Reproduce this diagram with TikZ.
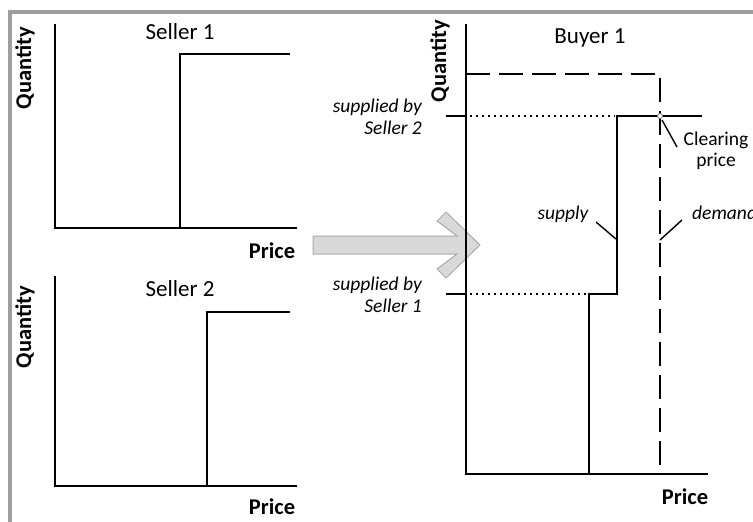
\documentclass[tikz,border=0pt]{standalone}
\usepackage{fontspec}
\setmainfont{Carlito}
\begin{document}
\begin{tikzpicture}[x=1pt,y=-1pt,
  frame/.style={draw=black!38,line width=4pt},
  axis/.style={line width=1.8pt,line cap=rect},
  curve/.style={line width=2.5pt},
  dashline/.style={line width=2pt,dash pattern=on 24pt off 9pt},
  dotline/.style={line width=1.6pt,dash pattern=on 1.6pt off 4.4pt},
  leader/.style={line width=1.4pt},
  title/.style={font=\fontsize{23}{27}\selectfont,inner sep=0pt},
  axlab/.style={font=\fontsize{22.5}{26}\selectfont\bfseries,inner sep=0pt},
  ilab/.style={font=\fontsize{19.5}{22}\selectfont\itshape,inner sep=0pt,align=right},
  clab/.style={font=\fontsize{19.5}{21}\selectfont,inner sep=0pt,align=center},
  bigarrow/.style={fill=black!15,draw=black!33,line width=1pt,line join=miter}
]
\useasboundingbox (0,0) rectangle (753,522);
\clip (0,0) rectangle (753,522);
\fill[white] (0,0) rectangle (753,522);
% frame
\draw[frame] (10,522) -- (10,12) -- (753,12);

% ---------- Seller 1 ----------
\coordinate (s1o) at (55,228);
\coordinate (s1y) at (55,25);
\coordinate (s1x) at (296,228);
\coordinate (s1a) at (180,228);
\coordinate (s1b) at (180,54);
\coordinate (s1c) at (290,54);
\draw[axis] (s1y) -- (s1o) -- (s1x);
\draw[curve] (s1o) -- (s1a) -- (s1b) -- (s1c);
\node[title] (t1) at (180,32) {Seller 1};
\node[axlab,rotate=90] (q1) at (25,68) {Quantity};
\node[axlab] (p1) at (272,251) {Price};

% ---------- Seller 2 ----------
\coordinate (s2o) at (55,486);
\coordinate (s2y) at (55,277);
\coordinate (s2x) at (296,486);
\coordinate (s2a) at (207,486);
\coordinate (s2b) at (207,312);
\coordinate (s2c) at (290,312);
\draw[axis] (s2y) -- (s2o) -- (s2x);
\draw[curve] (s2a) -- (s2b) -- (s2c);
\node[title] (t2) at (180,289) {Seller 2};
\node[axlab,rotate=90] (q2) at (25,327) {Quantity};
\node[axlab] (p2) at (272,507) {Price};

% ---------- big arrow ----------
\draw[bigarrow] (313,236) -- (457,236) -- (437,221) -- (446,212) -- (480,245)
  -- (446,278) -- (437,269) -- (457,254) -- (313,254) -- cycle;

% ---------- Buyer 1 ----------
\coordinate (bo) at (466,474);
\coordinate (by) at (466,25);
\coordinate (bx) at (707,474);
\draw[axis] (by) -- (bo) -- (bx);
\coordinate (tk2a) at (447,116);
\coordinate (tk2b) at (466,116);
\coordinate (tk1a) at (447,294);
\coordinate (tk1b) at (466,294);
\draw[axis] (tk2a) -- (tk2b);
\draw[axis] (tk1a) -- (tk1b);
% supply
\coordinate (sa) at (589,474);
\coordinate (sb) at (589,294);
\coordinate (sc) at (617,294);
\coordinate (sd) at (617,116);
\coordinate (se) at (702,116);
\draw[dotline] (470,116) -- (615,116);
\draw[dotline] (470,294) -- (587,294);
\draw[curve] (sa) -- (sb) -- (sc) -- (sd) -- (se);
% demand
\coordinate (da) at (466,74);
\coordinate (db) at (660,74);
\coordinate (dc) at (660,474);
\draw[dashline] (da) -- (db) -- (dc);
% clearing point
\node[circle,draw=black!55,fill=white,line width=0.8pt,inner sep=0pt,minimum size=5pt] (cp) at (660,116) {};

\node[title] (t3) at (590,38) {Buyer 1};
\node[axlab,rotate=90] (q3) at (440,61) {Quantity};
\node[axlab] (p3) at (685,497) {Price};

\node[ilab,anchor=east] (l2) at (422,117) {supplied by\\Seller 2};
\node[ilab,anchor=east] (l1) at (422,295) {supplied by\\Seller 1};
\node[clab] (cl) at (716,151) {Clearing\\price};
\node[ilab,anchor=base] (sup) at (563,219) {supply};
\node[ilab,anchor=base west] (dem) at (692,219) {demand};

\coordinate (sl1) at (596,222);
\coordinate (sl2) at (616,239);
\draw[leader] (sl1) -- (sl2);
\coordinate (dl1) at (682,220);
\coordinate (dl2) at (660,240);
\draw[leader] (dl1) -- (dl2);
\coordinate (cl1) at (662,120);
\coordinate (cl2) at (677,147);
\draw[leader] (cl1) -- (cl2);
\end{tikzpicture}
\end{document}
